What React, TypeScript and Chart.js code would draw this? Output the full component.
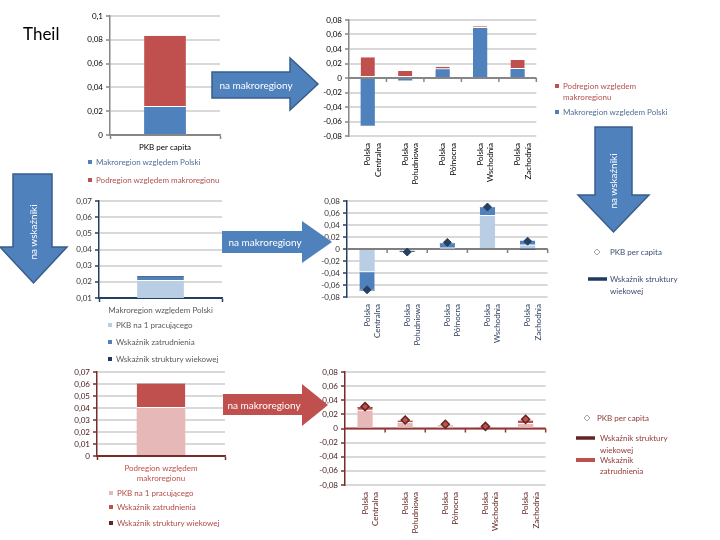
import React, { useEffect, useRef } from 'react';
import { Chart, registerables } from 'chart.js';

Chart.register(...registerables);

const FONT = 'Lato, "Open Sans", "DejaVu Sans", sans-serif';

// ---------------- DATA ----------------
// Chart 1 – Theil, PKB per capita
const theilCategories = ['PKB per capita'];
const theilMakroregion = [0.0235];
const theilPodregion = [0.06];

// Chart 2 – per macro-region
const regionLabels = [
  ['Polska', 'Centralna'],
  ['Polska', 'Południowa'],
  ['Polska', 'Północna'],
  ['Polska', 'Wschodnia'],
  ['Polska', 'Zachodnia'],
];
const regionMakroregion = [-0.066, -0.0035, 0.012, 0.069, 0.0124];
const regionPodregion = [0.0285, 0.0097, 0.0035, 0.0025, 0.0124];

// Chart 3 – Makroregion względem Polski, by indicator
const makroCategories = ['Makroregion względem Polski'];
const makroPkbNaPracujacego = [0.0205];
const makroZatrudnienie = [0.0025];
const makroStrukturaWiekowa = [0.0005];

// Chart 4 – per macro-region, indicators (makroregion)
const regMakroPkbNaPracujacego = [-0.037, -0.002, 0.001, 0.055, 0.006];
const regMakroZatrudnienie = [-0.031, -0.0015, 0.008, 0.014, 0.008];
const regMakroStrukturaWiekowa = [-0.001, -0.001, 0.001, 0.001, -0.001];
const regMakroPkbPerCapita = [-0.068, -0.005, 0.011, 0.07, 0.013];

// Chart 5 – Podregion względem makroregionu, by indicator
const podCategories = [['Podregion względem', 'makroregionu']];
const podPkbNaPracujacego = [0.04];
const podZatrudnienie = [0.02];
const podStrukturaWiekowa = [0.0003];

// Chart 6 – per macro-region, indicators (podregion)
const regPodPkbNaPracujacego = [0.025, 0.008, 0.003, 0.001, 0.0065];
const regPodZatrudnienie = [0.0045, 0.0025, 0.0005, 0.0005, 0.0045];
const regPodStrukturaWiekowa = [0.001, 0.0005, 0.0005, 0.0003, 0.0005];
const regPodPkbPerCapita = [0.031, 0.012, 0.006, 0.003, 0.013];

// axis ranges
const theilTicks = { min: 0, max: 0.1, step: 0.02 };
const regionTicks = { min: -0.08, max: 0.08, step: 0.02 };
const makroTicks = { min: 0.01, max: 0.07, step: 0.01 };
const podTicks = { min: 0, max: 0.07, step: 0.01 };

// ---------------- STYLE ----------------
const BLUE = '#4f81bd';
const RED = '#c0504d';
const LIGHT_BLUE = '#b9cde5';
const NAVY = '#1f3864';
const PINK = '#e6b9b8';
const DARK_RED = '#632523';
const GRID = '#d9d9d9';

const fmt = (v: any) => {
  const n = Number(Number(v).toFixed(3));
  if (n === 0) return '0';
  return String(n).replace('.', ',');
};

const sepBorder = (ctx: any) => {
  const v = ctx.raw;
  return v >= 0
    ? { top: 0, right: 0, left: 0, bottom: 1 }
    : { top: 1, right: 0, left: 0, bottom: 0 };
};

interface AxisStyle {
  ticks: { min: number; max: number; step: number };
  yWidth: number;
  xHeight: number;
  axisColor: string;
  tickColor: string;
  catColor: string;
  bottomAxis: boolean;
  rotate: boolean;
}

function makeOptions(s: AxisStyle): any {
  return {
    responsive: false,
    animation: false,
    devicePixelRatio: 1,
    layout: { padding: { top: 10, right: 6, bottom: 0, left: 0 } },
    plugins: { legend: { display: false }, tooltip: { enabled: false } },
    datasets: { bar: { categoryPercentage: 1, barPercentage: 0.38 } },
    scales: {
      x: {
        stacked: true,
        offset: true,
        border: { display: s.bottomAxis, color: s.axisColor, width: 1.5 },
        grid: {
          display: s.bottomAxis,
          drawOnChartArea: false,
          drawTicks: s.bottomAxis,
          tickLength: 4,
          tickColor: s.axisColor,
          tickWidth: 1.5,
          offset: true,
        },
        ticks: {
          color: s.catColor,
          font: { family: FONT, size: 8, lineHeight: 1.3 },
          padding: s.bottomAxis ? 3 : 7,
          autoSkip: false,
          maxRotation: s.rotate ? 90 : 0,
          minRotation: s.rotate ? 90 : 0,
        },
        afterFit: (scale: any) => {
          scale.height = s.xHeight;
        },
      },
      y: {
        stacked: true,
        min: s.ticks.min,
        max: s.ticks.max,
        border: { display: true, color: s.axisColor, width: 1.5 },
        grid: {
          color: (ctx: any) =>
            s.bottomAxis && ctx.tick && Math.abs(ctx.tick.value - s.ticks.min) < 1e-9
              ? s.axisColor
              : GRID,
          lineWidth: 2,
          drawTicks: true,
          tickLength: 4,
          tickColor: s.axisColor,
          tickWidth: 1.5,
        },
        ticks: {
          stepSize: s.ticks.step,
          autoSkip: false,
          color: s.tickColor,
          font: { family: FONT, size: 8 },
          padding: 3,
          callback: fmt,
        },
        afterFit: (scale: any) => {
          scale.width = s.yWidth;
        },
      },
    },
  };
}

const zeroAxisPlugin = (color: string) => ({
  id: 'zeroAxis',
  beforeDatasetsDraw(chart: any) {
    const { ctx, chartArea } = chart;
    const xs = chart.scales.x;
    const ys = chart.scales.y;
    const y0 = ys.getPixelForValue(0);
    ctx.save();
    ctx.strokeStyle = color;
    ctx.lineWidth = 2;
    ctx.beginPath();
    ctx.moveTo(chartArea.left, y0);
    ctx.lineTo(chartArea.right, y0);
    ctx.stroke();
    ctx.lineWidth = 1.5;
    ctx.beginPath();
    const n = xs.ticks.length;
    for (let i = 1; i <= n; i++) {
      const px = xs.getPixelForValue(i - 0.5);
      ctx.moveTo(px, y0);
      ctx.lineTo(px, y0 + 4);
    }
    ctx.stroke();
    ctx.restore();
  },
});

function ChartCanvas({ left, top, width, height, build }: any) {
  const ref = useRef<HTMLCanvasElement>(null);
  useEffect(() => {
    const chart = new Chart(ref.current as HTMLCanvasElement, build());
    return () => chart.destroy();
  }, []);
  return (
    <canvas
      ref={ref}
      width={width}
      height={height}
      style={{ position: 'absolute', left, top, width, height }}
    />
  );
}

// ---------------- CHART CONFIGS ----------------
const chart1 = () => ({
  type: 'bar',
  data: {
    labels: theilCategories,
    datasets: [
      { label: 'Makroregion względem Polski', data: theilMakroregion, backgroundColor: BLUE, stack: 's' },
      {
        label: 'Podregion względem makroregionu', data: theilPodregion, backgroundColor: RED,
        borderColor: '#fff', borderWidth: sepBorder, borderSkipped: false, stack: 's',
      },
    ],
  },
  options: makeOptions({
    ticks: theilTicks, yWidth: 50, xHeight: 20, axisColor: '#868686',
    tickColor: '#000', catColor: '#000', bottomAxis: true, rotate: false,
  }),
});

const chart2 = () => ({
  type: 'bar',
  data: {
    labels: regionLabels,
    datasets: [
      { label: 'Makroregion względem Polski', data: regionMakroregion, backgroundColor: BLUE, stack: 's' },
      {
        label: 'Podregion względem makroregionu', data: regionPodregion, backgroundColor: RED,
        borderColor: '#fff', borderWidth: sepBorder, borderSkipped: false, stack: 's',
      },
    ],
  },
  options: makeOptions({
    ticks: regionTicks, yWidth: 39, xHeight: 56, axisColor: '#868686',
    tickColor: '#000', catColor: '#000', bottomAxis: false, rotate: true,
  }),
  plugins: [zeroAxisPlugin('#868686')],
});

const chart3 = () => ({
  type: 'bar',
  data: {
    labels: makroCategories,
    datasets: [
      { label: 'PKB na 1 pracującego', data: makroPkbNaPracujacego, backgroundColor: LIGHT_BLUE, stack: 's' },
      {
        label: 'Wskaźnik zatrudnienia', data: makroZatrudnienie, backgroundColor: BLUE,
        borderColor: '#fff', borderWidth: sepBorder, borderSkipped: false, stack: 's',
      },
      { label: 'Wskaźnik struktury wiekowej', data: makroStrukturaWiekowa, backgroundColor: NAVY, stack: 's' },
    ],
  },
  options: makeOptions({
    ticks: makroTicks, yWidth: 49, xHeight: 20, axisColor: '#243f60',
    tickColor: '#333', catColor: '#595959', bottomAxis: true, rotate: false,
  }),
});

const chart4 = () => ({
  type: 'bar',
  data: {
    labels: regionLabels,
    datasets: [
      {
        type: 'line', label: 'PKB per capita', data: regMakroPkbPerCapita, showLine: false,
        pointStyle: 'rectRot', pointRadius: 4, pointBackgroundColor: '#254061',
        pointBorderColor: '#254061', stack: 'm', order: 0,
      },
      { label: 'PKB na 1 pracującego', data: regMakroPkbNaPracujacego, backgroundColor: LIGHT_BLUE, stack: 's', order: 1 },
      {
        label: 'Wskaźnik zatrudnienia', data: regMakroZatrudnienie, backgroundColor: BLUE,
        borderColor: '#fff', borderWidth: sepBorder, borderSkipped: false, stack: 's', order: 1,
      },
      { label: 'Wskaźnik struktury wiekowej', data: regMakroStrukturaWiekowa, backgroundColor: NAVY, stack: 's', order: 1 },
    ],
  },
  options: makeOptions({
    ticks: regionTicks, yWidth: 39, xHeight: 55, axisColor: '#243f60',
    tickColor: '#333', catColor: '#2c3e5c', bottomAxis: false, rotate: true,
  }),
  plugins: [zeroAxisPlugin('#7f7f7f')],
});

const chart5 = () => ({
  type: 'bar',
  data: {
    labels: podCategories,
    datasets: [
      { label: 'PKB na 1 pracującego', data: podPkbNaPracujacego, backgroundColor: PINK, stack: 's' },
      {
        label: 'Wskaźnik zatrudnienia', data: podZatrudnienie, backgroundColor: RED,
        borderColor: '#fff', borderWidth: sepBorder, borderSkipped: false, stack: 's',
      },
      { label: 'Wskaźnik struktury wiekowej', data: podStrukturaWiekowa, backgroundColor: DARK_RED, stack: 's' },
    ],
  },
  options: makeOptions({
    ticks: podTicks, yWidth: 49, xHeight: 29, axisColor: '#772c2a',
    tickColor: '#3d1c1b', catColor: RED, bottomAxis: true, rotate: false,
  }),
});

const chart6 = () => ({
  type: 'bar',
  data: {
    labels: regionLabels,
    datasets: [
      {
        type: 'line', label: 'PKB per capita', data: regPodPkbPerCapita, showLine: false,
        pointStyle: 'rectRot', pointRadius: 4, pointBackgroundColor: '#c0504d',
        pointBorderColor: DARK_RED, pointBorderWidth: 1.5, stack: 'm', order: 0,
      },
      { label: 'PKB na 1 pracującego', data: regPodPkbNaPracujacego, backgroundColor: PINK, stack: 's', order: 1 },
      {
        label: 'Wskaźnik zatrudnienia', data: regPodZatrudnienie, backgroundColor: RED,
        borderColor: '#fff', borderWidth: sepBorder, borderSkipped: false, stack: 's', order: 1,
      },
      { label: 'Wskaźnik struktury wiekowej', data: regPodStrukturaWiekowa, backgroundColor: DARK_RED, stack: 's', order: 1 },
    ],
  },
  options: makeOptions({
    ticks: regionTicks, yWidth: 39, xHeight: 50, axisColor: '#772c2a',
    tickColor: '#3d1c1b', catColor: DARK_RED, bottomAxis: false, rotate: true,
  }),
  plugins: [zeroAxisPlugin('#943634')],
});

// ---------------- DECORATIONS ----------------
function RightArrow({ x0, xh, x1, yb0, yb1, yh0, yh1, fill, stroke }: any) {
  const ym = (yh0 + yh1) / 2;
  const pts = `${x0},${yb0} ${xh},${yb0} ${xh},${yh0} ${x1},${ym} ${xh},${yh1} ${xh},${yb1} ${x0},${yb1}`;
  return <polygon points={pts} fill={fill} stroke={stroke || 'none'} strokeWidth={1.5} />;
}

function DownArrow({ xb0, xb1, xh0, xh1, y0, yh, y1, fill, stroke }: any) {
  const xm = (xh0 + xh1) / 2;
  const pts = `${xb0},${y0} ${xb1},${y0} ${xb1},${yh} ${xh1},${yh} ${xm},${y1} ${xh0},${yh} ${xb0},${yh}`;
  return <polygon points={pts} fill={fill} stroke={stroke || 'none'} strokeWidth={1.5} />;
}

function T({ x, y, children, fill, size = 8, anchor = 'start', rotate }: any) {
  return (
    <text
      x={x}
      y={y}
      fill={fill}
      fontSize={size}
      fontFamily={FONT}
      textAnchor={anchor}
      dominantBaseline="central"
      transform={rotate ? `rotate(${rotate} ${x} ${y})` : undefined}
    >
      {children}
    </text>
  );
}

function Sq({ x, y, c }: any) {
  return <rect x={x - 2} y={y - 2} width={4} height={4} fill={c} />;
}

function Diamond({ x, y, fill, stroke }: any) {
  return <polygon points={`${x},${y - 3} ${x + 3},${y} ${x},${y + 3} ${x - 3},${y}`} fill={fill} stroke={stroke} strokeWidth={0.8} />;
}

export default function App() {
  return (
    <div
      style={{
        position: 'fixed', left: 0, top: 0, width: 720, height: 540,
        background: '#fff', overflow: 'hidden',
      }}
    >
      <ChartCanvas left={60} top={6} width={166} height={149} build={chart1} />
      <ChartCanvas left={310} top={10} width={236} height={182} build={chart2} />
      <ChartCanvas left={50} top={191} width={178} height={127} build={chart3} />
      <ChartCanvas left={308} top={191} width={248} height={161} build={chart4} />
      <ChartCanvas left={48} top={362} width={183} height={123} build={chart5} />
      <ChartCanvas left={306} top={362} width={248} height={173} build={chart6} />

      <svg
        width={720}
        height={540}
        style={{ position: 'absolute', left: 0, top: 0, pointerEvents: 'none' }}
      >
        <T x={23} y={33} size={17} fill="#000">Theil</T>

        {/* arrows */}
        <RightArrow x0={212} xh={290} x1={318} yb0={72} yb1={98} yh0={58} yh1={110} fill={BLUE} stroke="#385d8a" />
        <T x={256} y={85} size={10} fill="#fff" anchor="middle">na makroregiony</T>

        <RightArrow x0={222} xh={302} x1={332} yb0={231} yb1={253} yh0={221} yh1={263} fill={BLUE} />
        <T x={265} y={242} size={10} fill="#fff" anchor="middle">na makroregiony</T>

        <RightArrow x0={223} xh={302} x1={328} yb0={394} yb1={415} yh0={384} yh1={426} fill={RED} />
        <T x={264} y={405} size={10} fill="#fff" anchor="middle">na makroregiony</T>

        <DownArrow xb0={13} xb1={52} xh0={0} xh1={67} y0={174} yh={247} y1={283} fill={BLUE} stroke="#385d8a" />
        <T x={33} y={232} size={10} fill="#fff" anchor="middle" rotate={-90}>na wskaźniki</T>

        <DownArrow xb0={595} xb1={632} xh0={578} xh1={649} y0={127} yh={195} y1={232} fill={BLUE} stroke="#385d8a" />
        <T x={613} y={181} size={10} fill="#fff" anchor="middle" rotate={-90}>na wskaźniki</T>

        {/* legend chart 1 */}
        <Sq x={90} y={162} c={BLUE} />
        <T x={96} y={162} fill="#4f6d96">Makroregion względem Polski</T>
        <Sq x={90} y={180} c={RED} />
        <T x={96} y={180} fill="#b0504d">Podregion względem makroregionu</T>

        {/* legend chart 2 */}
        <Sq x={557} y={86} c={RED} />
        <T x={563} y={86} fill="#b0504d">Podregion względem</T>
        <T x={563} y={97} fill="#b0504d">makroregionu</T>
        <Sq x={557} y={112} c={BLUE} />
        <T x={563} y={112} fill="#4f6d96">Makroregion względem Polski</T>

        {/* legend chart 3 */}
        <Sq x={110} y={325} c={LIGHT_BLUE} />
        <T x={116} y={325} fill="#595959">PKB na 1 pracującego</T>
        <Sq x={110} y={342} c={BLUE} />
        <T x={116} y={342} fill="#595959">Wskaźnik zatrudnienia</T>
        <Sq x={110} y={359} c={NAVY} />
        <T x={116} y={359} fill="#595959">Wskaźnik struktury wiekowej</T>

        {/* legend chart 4 */}
        <Diamond x={597} y={252} fill="#fff" stroke="#8c8c8c" />
        <T x={610} y={252} fill="#3a4f70">PKB per capita</T>
        <line x1={588} y1={279} x2={607} y2={279} stroke={NAVY} strokeWidth={3.5} />
        <T x={610} y={279} fill="#3a4f70">Wskaźnik struktury</T>
        <T x={610} y={291} fill="#3a4f70">wiekowej</T>

        {/* legend chart 5 */}
        <Sq x={111} y={493} c={PINK} />
        <T x={117} y={493} fill="#b04a47">PKB na 1 pracującego</T>
        <Sq x={111} y={507} c={RED} />
        <T x={117} y={507} fill="#b04a47">Wskaźnik zatrudnienia</T>
        <Sq x={111} y={523} c={DARK_RED} />
        <T x={117} y={523} fill="#b04a47">Wskaźnik struktury wiekowej</T>

        {/* legend chart 6 */}
        <Diamond x={587} y={418} fill="#fff" stroke="#8c8c8c" />
        <T x={597} y={418} fill="#8f3a37">PKB per capita</T>
        <line x1={576} y1={438} x2={595} y2={438} stroke={DARK_RED} strokeWidth={3.5} />
        <T x={600} y={438} fill="#8f3a37">Wskaźnik struktury</T>
        <T x={600} y={450} fill="#8f3a37">wiekowej</T>
        <line x1={576} y1={460} x2={595} y2={460} stroke={RED} strokeWidth={4} />
        <T x={600} y={460} fill="#8f3a37">Wskaźnik</T>
        <T x={600} y={471} fill="#8f3a37">zatrudnienia</T>
      </svg>
    </div>
  );
}
